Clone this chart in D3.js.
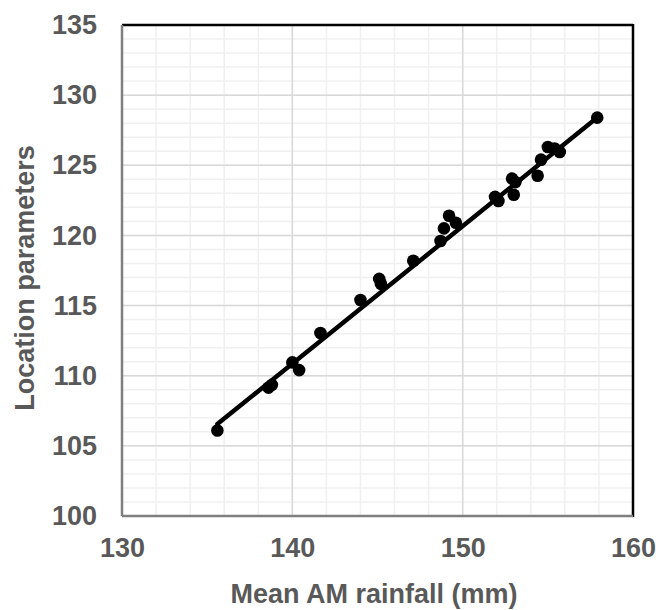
<!DOCTYPE html>
<html><head><meta charset="utf-8">
<script src="https://cdn.jsdelivr.net/npm/d3@7"></script>
<style>body{margin:0;background:#fff}svg{display:block}</style>
</head><body>
<script>
const rainfall = [135.6,138.6,138.8,140.0,140.4,141.65,144.0,145.1,145.2,147.1,148.7,148.9,149.2,149.6,151.9,152.1,152.9,153.0,153.1,154.4,154.6,155.0,155.4,155.7,157.9];
const location_ = [106.1,109.15,109.35,110.95,110.4,113.05,115.4,116.9,116.55,118.2,119.6,120.5,121.4,120.9,122.75,122.45,124.05,122.9,123.8,124.25,125.4,126.3,126.2,125.95,128.4];
const trendX = [135.6,157.9];
const trendY = [106.55,128.4];
const xTicks = [130,140,150,160];
const yTicks = [100,105,110,115,120,125,130,135];

const W=656,H=610;
const L=122,R=633,T=25,B=516;
const svg=d3.select("body").append("svg").attr("width",W).attr("height",H);
const x=d3.scaleLinear().domain([130,160]).range([L,R]);
const y=d3.scaleLinear().domain([100,135]).range([B,T]);
const font="'Liberation Sans', Arial, sans-serif";

// minor grid
const g=svg.append("g");
g.selectAll(".mx").data(d3.range(130,160.01,2)).join("line")
 .attr("x1",d=>x(d)).attr("x2",d=>x(d)).attr("y1",T).attr("y2",B)
 .attr("stroke","#f0f0f0").attr("stroke-width",1.5);
g.selectAll(".my").data(d3.range(100,135.01,1)).join("line")
 .attr("y1",d=>y(d)).attr("y2",d=>y(d)).attr("x1",L).attr("x2",R)
 .attr("stroke","#f0f0f0").attr("stroke-width",1.5);
// major grid
g.selectAll(".Mx").data(d3.range(130,160.01,10)).join("line")
 .attr("x1",d=>x(d)).attr("x2",d=>x(d)).attr("y1",T).attr("y2",B)
 .attr("stroke","#d9d9d9").attr("stroke-width",1.5);
g.selectAll(".My").data(d3.range(100,135.01,5)).join("line")
 .attr("y1",d=>y(d)).attr("y2",d=>y(d)).attr("x1",L).attr("x2",R)
 .attr("stroke","#d9d9d9").attr("stroke-width",1.5);

// frame
svg.append("line").attr("x1",L).attr("x2",R).attr("y1",T).attr("y2",T).attr("stroke","#000").attr("stroke-width",2.5);
svg.append("line").attr("x1",R).attr("x2",R).attr("y1",T-1).attr("y2",B+1).attr("stroke","#000").attr("stroke-width",2.5);
svg.append("line").attr("x1",L).attr("x2",L).attr("y1",T).attr("y2",B).attr("stroke","#7f7f7f").attr("stroke-width",2.5);
svg.append("line").attr("x1",L).attr("x2",R).attr("y1",B).attr("y2",B).attr("stroke","#7f7f7f").attr("stroke-width",2.5);

// axes labels via d3 axes
const xa=svg.append("g").attr("transform",`translate(0,${B})`)
 .call(d3.axisBottom(x).tickValues(xTicks).tickSize(0).tickPadding(22).tickFormat(d3.format("d")));
xa.select(".domain").remove();
xa.selectAll("text").attr("font-family",font).attr("font-size",27).attr("font-weight","bold").attr("fill","#595959");
const ya=svg.append("g").attr("transform",`translate(${L},0)`)
 .call(d3.axisLeft(y).tickValues(yTicks).tickSize(0).tickPadding(25).tickFormat(d3.format("d")));
ya.select(".domain").remove();
ya.selectAll("text").attr("font-family",font).attr("font-size",27).attr("font-weight","bold").attr("fill","#595959");

// trend line
svg.append("line").attr("x1",x(trendX[0])).attr("y1",y(trendY[0])).attr("x2",x(trendX[1])).attr("y2",y(trendY[1]))
 .attr("stroke","#000").attr("stroke-width",4.5).attr("stroke-linecap","round");

// points
svg.selectAll(".pt").data(rainfall.map((d,i)=>[d,location_[i]])).join("circle")
 .attr("cx",d=>x(d[0])).attr("cy",d=>y(d[1])).attr("r",6.3).attr("fill","#000");

// titles
svg.append("text").attr("x",374).attr("y",603).attr("text-anchor","middle")
 .attr("font-family",font).attr("font-size",27).attr("font-weight","bold").attr("fill","#595959")
 .text("Mean AM rainfall (mm)");
svg.append("text").attr("transform","translate(34,278) rotate(-90)").attr("text-anchor","middle")
 .attr("font-family",font).attr("font-size",27).attr("font-weight","bold").attr("fill","#595959")
 .text("Location parameters");
</script>
</body></html>
